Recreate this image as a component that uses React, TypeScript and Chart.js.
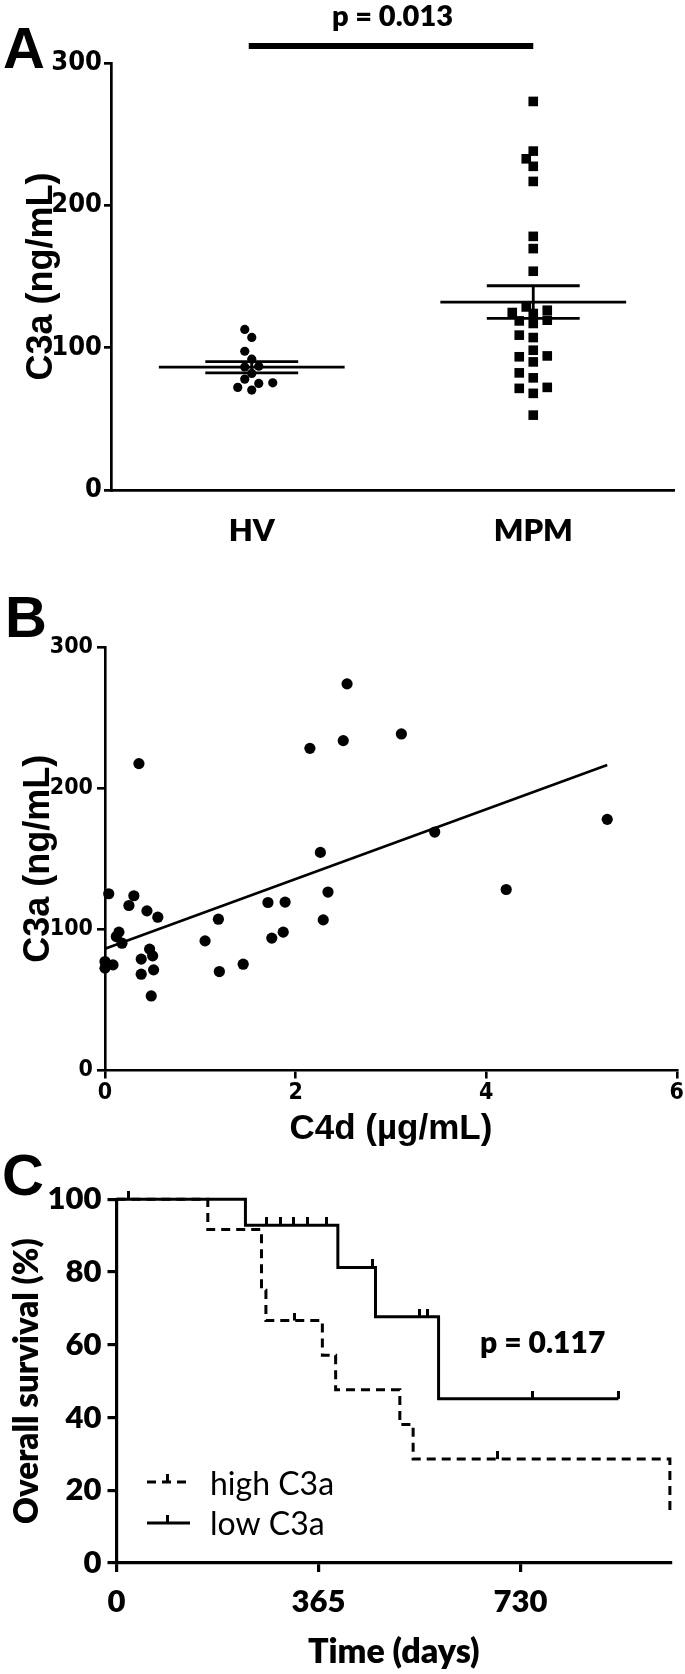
import React, { useEffect, useRef } from "react";
import { Chart, registerables } from "chart.js";
Chart.register(...registerables);

// ---------- Panel A data ----------
const GROUP_LABELS = ["HV", "MPM"];
const HV_C3A = [112.8, 107.2, 97.5, 91.9, 86.5, 87.0, 81.9, 77.9, 74.9, 75.3, 72.1, 70.2];
const MPM_C3A = [
  273.0, 238.1, 232.7, 227.4, 216.8, 178.2, 169.6, 153.7, 128.6, 126.3, 124.0, 124.7, 118.8, 117.0,
  119.3, 107.1, 108.8, 98.2, 93.6, 94.2, 90.0, 82.3, 78.8, 71.4, 72.1, 67.9, 52.6,
];
const A_Y_TICKS = [0, 100, 200, 300];
const A_P_TEXT = "p = 0.013";

// ---------- Panel B data ----------
const B_C4D = [
  0.356, 2.54, 2.15, 2.5, 3.11, 2.26, 0.039, 0.303, 0.251, 0.44, 0.554, 0.146, 0.119, 0.178, 0, 0,
  0.084, 0.468, 0.5, 0.38, 0.51, 0.38, 0.485, 1.19, 1.05, 1.2, 1.45, 1.71, 1.89, 1.75, 1.87, 2.34,
  2.29, 3.46, 4.21, 5.27,
];
const B_C3A = [
  217.4, 273.9, 228.2, 233.7, 238.4, 154.5, 125.2, 123.8, 116.9, 113.1, 108.6, 98.0, 94.9, 90.2,
  77.2, 72.5, 74.8, 86.0, 81.2, 78.9, 71.3, 68.2, 52.8, 107.2, 91.8, 70.1, 75.3, 119.0, 119.3, 93.8,
  98.0, 126.4, 106.7, 168.9, 128.2, 177.9,
];
const B_FIT_INTERCEPT = 86.2;
const B_FIT_SLOPE = 24.7;
const B_X_TICKS = [0, 2, 4, 6];
const B_Y_TICKS = [0, 100, 200, 300];

// ---------- Panel C data ----------
const LEGEND_LABELS = ["high C3a", "low C3a"];
const HIGH_EVENT_DAYS = [165, 262, 270, 372, 396, 512, 536, 1000];
const HIGH_EVENT_SURV = [91.67, 75.0, 66.67, 57.14, 47.62, 38.1, 28.57, 14.29];
const HIGH_CENSOR_DAYS = [322, 688];
const LOW_EVENT_DAYS = [233, 400, 468, 582];
const LOW_EVENT_SURV = [92.86, 81.25, 67.71, 45.14];
const LOW_CENSOR_DAYS = [21, 271, 296, 319, 345, 380, 463, 548, 562, 751, 907];
const LOW_LAST_DAY = 907;
const C_X_TICKS = [0, 365, 730];
const C_X_MAX = 1002;
const C_Y_TICKS = [0, 20, 40, 60, 80, 100];
const C_P_TEXT = "p = 0.117";

// ---------- fonts ----------
const NARROW = '"Liberation Sans Narrow", "DejaVu Sans Condensed", "Liberation Sans", Arial, sans-serif';
const ARIAL = '"Liberation Sans", Arial, sans-serif';
const LATO = 'Lato, "Open Sans", sans-serif';
const BLACK = "#000";

const mean = (a: number[]) => a.reduce((s, v) => s + v, 0) / a.length;
const sem = (a: number[]) => {
  const m = mean(a);
  const sd = Math.sqrt(a.reduce((s, v) => s + (v - m) * (v - m), 0) / (a.length - 1));
  return sd / Math.sqrt(a.length);
};

// simple beeswarm: spread points horizontally so markers don't overlap
function swarm(values: number[], center: number, pxPerY: number, pxPerX: number, size: number, step: number) {
  const order = values.map((_, i) => i).sort((a, b) => values[a] - values[b]);
  const placed: { x: number; y: number }[] = [];
  const out: { x: number; y: number }[] = new Array(values.length);
  for (const i of order) {
    const py = values[i] * pxPerY;
    let chosen = 0;
    outer: for (let n = 0; n < 60; n++) {
      const cands = n === 0 ? [0] : [-n, n];
      for (const c of cands) {
        const px = c * step;
        if (placed.every((p) => Math.hypot(p.x - px, p.y - py) >= size)) {
          chosen = px;
          break outer;
        }
      }
    }
    placed.push({ x: chosen, y: py });
    out[i] = { x: center + chosen / pxPerX, y: values[i] };
  }
  return out;
}

function errorBarData(values: number[], c: number, meanHalf: number, semHalf: number) {
  const m = mean(values);
  const s = sem(values);
  return [
    { x: c - meanHalf, y: m },
    { x: c + meanHalf, y: m },
    { x: c, y: null },
    { x: c - semHalf, y: m + s },
    { x: c + semHalf, y: m + s },
    { x: c, y: null },
    { x: c - semHalf, y: m - s },
    { x: c + semHalf, y: m - s },
    { x: c, y: null },
    { x: c, y: m - s },
    { x: c, y: m + s },
  ];
}

function survAt(days: number[], survs: number[], d: number) {
  let s = 100;
  days.forEach((t, i) => {
    if (t <= d) s = survs[i];
  });
  return s;
}

function kmData(days: number[], survs: number[], lastDay?: number) {
  const pts = [{ x: 0, y: 100 }, ...days.map((d, i) => ({ x: d, y: survs[i] }))];
  if (lastDay !== undefined && lastDay > days[days.length - 1]) {
    pts.push({ x: lastDay, y: survs[survs.length - 1] });
  }
  return pts;
}

function fixedTicks(values: number[]) {
  return (scale: any) => {
    scale.ticks = values.map((v) => ({ value: v }));
  };
}

const baseOptions = {
  responsive: false,
  animation: false as const,
  devicePixelRatio: 1,
  events: [] as any[],
};

const yGrid = (len: number, w: number) => ({
  display: true,
  drawOnChartArea: false,
  drawTicks: true,
  tickLength: len,
  tickWidth: w,
  tickColor: BLACK,
  color: BLACK,
  lineWidth: w,
});

export default function App() {
  const refA = useRef<HTMLCanvasElement>(null);
  const refB = useRef<HTMLCanvasElement>(null);
  const refC = useRef<HTMLCanvasElement>(null);

  useEffect(() => {
    const charts: Chart[] = [];

    // ================= Panel A =================
    {
      const H = 560, L = 111, R = 674, T = 63, BOT = 490;
      const pxPerY = (BOT - T) / 300;
      const pxPerX = (R - L) / 4;
      const hvPts = swarm(HV_C3A, 1, pxPerY, pxPerX, 9, 7);
      const mpmPts = swarm(MPM_C3A, 3, pxPerY, pxPerX, 9.5, 7);
      const annA = {
        id: "annA",
        afterDraw(chart: any) {
          const ctx = chart.ctx;
          const xs = chart.scales.x;
          const x1 = xs.getPixelForValue(1);
          const x2 = xs.getPixelForValue(3);
          ctx.save();
          ctx.fillStyle = BLACK;
          ctx.strokeStyle = BLACK;
          ctx.textBaseline = "alphabetic";
          ctx.font = `bold 58px ${ARIAL}`;
          ctx.textAlign = "left";
          ctx.fillText("A", 3, 68);
          ctx.lineWidth = 6;
          ctx.beginPath();
          ctx.moveTo(x1 - 3, chart.chartArea.top - 17);
          ctx.lineTo(x2, chart.chartArea.top - 17);
          ctx.stroke();
          ctx.font = `800 29px ${LATO}`;
          ctx.textAlign = "center";
          ctx.fillText(A_P_TEXT, (x1 + x2) / 2, 26);
          ctx.restore();
        },
      };
      charts.push(
        new Chart(refA.current!, {
          type: "scatter",
          data: {
            datasets: [
              {
                type: "line",
                data: errorBarData(HV_C3A, 1, 0.66, 0.33) as any,
                borderColor: BLACK,
                borderWidth: 2.8,
                pointRadius: 0,
                spanGaps: false,
                clip: false as any,
              },
              {
                type: "line",
                data: errorBarData(MPM_C3A, 3, 0.66, 0.33) as any,
                borderColor: BLACK,
                borderWidth: 2.8,
                pointRadius: 0,
                spanGaps: false,
                clip: false as any,
              },
              {
                label: GROUP_LABELS[0],
                data: hvPts,
                pointStyle: "circle",
                pointRadius: 4.6,
                pointBackgroundColor: BLACK,
                pointBorderWidth: 0,
                clip: false as any,
              },
              {
                label: GROUP_LABELS[1],
                data: mpmPts,
                pointStyle: "rect",
                pointRadius: 6.8,
                pointBackgroundColor: BLACK,
                pointBorderWidth: 0,
                clip: false as any,
              },
            ],
          },
          options: {
            ...baseOptions,
            layout: { padding: { top: T, right: 685 - R, left: 0, bottom: 0 } },
            plugins: { legend: { display: false }, tooltip: { enabled: false } },
            scales: {
              x: {
                type: "linear",
                min: 0,
                max: 4,
                afterBuildTicks: fixedTicks([1, 3]),
                afterFit: (s: any) => {
                  s.height = H - BOT;
                },
                ticks: {
                  callback: (v: any) => GROUP_LABELS[Math.round((Number(v) - 1) / 2)],
                  font: { family: LATO, size: 31, weight: "800" },
                  color: BLACK,
                  padding: 22,
                  maxRotation: 0,
                  autoSkip: false,
                },
                grid: { display: false, drawTicks: false },
                border: { display: true, color: BLACK, width: 2.7 },
              },
              y: {
                type: "linear",
                min: A_Y_TICKS[0],
                max: A_Y_TICKS[A_Y_TICKS.length - 1],
                afterBuildTicks: fixedTicks(A_Y_TICKS),
                afterFit: (s: any) => {
                  s.width = L;
                },
                ticks: {
                  font: { family: NARROW, size: 27, weight: "bold" },
                  color: BLACK,
                  padding: 2,
                },
                grid: yGrid(7, 2.7),
                border: { display: true, color: BLACK, width: 2.7 },
                title: {
                  display: true,
                  text: "C3a (ng/mL)",
                  font: { family: ARIAL, size: 36, weight: "bold" },
                  color: BLACK,
                  padding: { top: 20, bottom: 0 },
                },
              },
            },
          } as any,
          plugins: [annA],
        })
      );
    }

    // ================= Panel B =================
    {
      const H = 600, L = 105, R = 679, T = 87, BOT = 510.5;
      const xMin = Math.min(...B_C4D);
      const xMax = Math.max(...B_C4D);
      const annB = {
        id: "annB",
        afterDraw(chart: any) {
          const ctx = chart.ctx;
          ctx.save();
          ctx.fillStyle = BLACK;
          ctx.textBaseline = "alphabetic";
          ctx.textAlign = "left";
          ctx.font = `bold 58px ${ARIAL}`;
          ctx.fillText("B", 5, 77);
          ctx.restore();
        },
      };
      charts.push(
        new Chart(refB.current!, {
          type: "scatter",
          data: {
            datasets: [
              {
                type: "line",
                data: [
                  { x: xMin, y: B_FIT_INTERCEPT + B_FIT_SLOPE * xMin },
                  { x: xMax, y: B_FIT_INTERCEPT + B_FIT_SLOPE * xMax },
                ],
                borderColor: BLACK,
                borderWidth: 2.6,
                pointRadius: 0,
                clip: false as any,
              },
              {
                data: B_C4D.map((x, i) => ({ x, y: B_C3A[i] })),
                pointStyle: "circle",
                pointRadius: 5.6,
                pointBackgroundColor: BLACK,
                pointBorderWidth: 0,
                clip: false as any,
              },
            ],
          },
          options: {
            ...baseOptions,
            layout: { padding: { top: T, right: 685 - R, left: 0, bottom: 0 } },
            plugins: { legend: { display: false }, tooltip: { enabled: false } },
            scales: {
              x: {
                type: "linear",
                min: B_X_TICKS[0],
                max: B_X_TICKS[B_X_TICKS.length - 1],
                afterBuildTicks: fixedTicks(B_X_TICKS),
                afterFit: (s: any) => {
                  s.height = H - BOT;
                },
                ticks: {
                  font: { family: NARROW, size: 23, weight: "bold" },
                  color: BLACK,
                  padding: 1,
                  maxRotation: 0,
                },
                grid: yGrid(8, 2.6),
                border: { display: true, color: BLACK, width: 2.6 },
                title: {
                  display: true,
                  text: "C4d (µg/mL)",
                  font: { family: ARIAL, size: 35, weight: "bold" },
                  color: BLACK,
                  padding: { top: 0, bottom: 10 },
                },
              },
              y: {
                type: "linear",
                min: B_Y_TICKS[0],
                max: B_Y_TICKS[B_Y_TICKS.length - 1],
                afterBuildTicks: fixedTicks(B_Y_TICKS),
                afterFit: (s: any) => {
                  s.width = L;
                },
                ticks: {
                  font: { family: NARROW, size: 23, weight: "bold" },
                  color: BLACK,
                  padding: 4,
                },
                grid: yGrid(8, 2.6),
                border: { display: true, color: BLACK, width: 2.6 },
                title: {
                  display: true,
                  text: "C3a (ng/mL)",
                  font: { family: ARIAL, size: 36, weight: "bold" },
                  color: BLACK,
                  padding: { top: 17, bottom: 0 },
                },
              },
            },
          } as any,
          plugins: [annB],
        })
      );
    }

    // ================= Panel C =================
    {
      const H = 534, L = 116.5, R = 671, T = 59.3, BOT = 423;
      const tick = document.createElement("canvas");
      tick.width = 3;
      tick.height = 16;
      const tctx = tick.getContext("2d")!;
      tctx.fillStyle = BLACK;
      tctx.fillRect(0, 0, 3, 8);

      const annC = {
        id: "annC",
        afterDraw(chart: any) {
          const ctx = chart.ctx;
          ctx.save();
          ctx.fillStyle = BLACK;
          ctx.strokeStyle = BLACK;
          ctx.textBaseline = "alphabetic";
          ctx.textAlign = "left";
          ctx.font = `bold 58px ${ARIAL}`;
          ctx.fillText("C", 2, 55);
          ctx.font = `800 30px ${LATO}`;
          ctx.fillText(C_P_TEXT, 480, 213);
          // legend
          ctx.lineWidth = 3;
          ctx.setLineDash([9, 6]);
          ctx.beginPath();
          ctx.moveTo(147, 342);
          ctx.lineTo(190, 342);
          ctx.stroke();
          ctx.setLineDash([]);
          ctx.fillRect(166, 334, 3, 8);
          ctx.beginPath();
          ctx.moveTo(147, 383);
          ctx.lineTo(190, 383);
          ctx.stroke();
          ctx.fillRect(166, 375, 3, 8);
          ctx.font = `32px ${LATO}`;
          ctx.fillText(LEGEND_LABELS[0], 210, 355);
          ctx.fillText(LEGEND_LABELS[1], 210, 395);
          ctx.restore();
        },
      };

      charts.push(
        new Chart(refC.current!, {
          type: "line",
          data: {
            datasets: [
              {
                label: LEGEND_LABELS[0],
                data: kmData(HIGH_EVENT_DAYS, HIGH_EVENT_SURV),
                stepped: "before",
                borderColor: BLACK,
                borderWidth: 3,
                borderDash: [9, 6],
                pointRadius: 0,
                fill: false,
                clip: false as any,
              },
              {
                label: LEGEND_LABELS[1],
                data: kmData(LOW_EVENT_DAYS, LOW_EVENT_SURV, LOW_LAST_DAY),
                stepped: "before",
                borderColor: BLACK,
                borderWidth: 3,
                pointRadius: 0,
                fill: false,
                clip: false as any,
              },
              {
                type: "scatter",
                data: HIGH_CENSOR_DAYS.map((d) => ({ x: d, y: survAt(HIGH_EVENT_DAYS, HIGH_EVENT_SURV, d) })),
                pointStyle: tick as any,
                pointRadius: 3,
                clip: false as any,
              },
              {
                type: "scatter",
                data: LOW_CENSOR_DAYS.map((d) => ({ x: d, y: survAt(LOW_EVENT_DAYS, LOW_EVENT_SURV, d) })),
                pointStyle: tick as any,
                pointRadius: 3,
                clip: false as any,
              },
            ],
          },
          options: {
            ...baseOptions,
            layout: { padding: { top: T, right: 685 - R, left: 0, bottom: 0 } },
            plugins: { legend: { display: false }, tooltip: { enabled: false } },
            scales: {
              x: {
                type: "linear",
                min: 0,
                max: C_X_MAX,
                afterBuildTicks: fixedTicks(C_X_TICKS),
                afterFit: (s: any) => {
                  s.height = H - BOT;
                },
                ticks: {
                  font: { family: LATO, size: 31, weight: "800" },
                  color: BLACK,
                  padding: 11,
                  maxRotation: 0,
                  autoSkip: false,
                },
                grid: yGrid(9, 3.2),
                border: { display: true, color: BLACK, width: 3.2 },
                title: {
                  display: true,
                  text: "Time (days)",
                  font: { family: LATO, size: 34, weight: "800" },
                  color: BLACK,
                  padding: { top: 0, bottom: 2 },
                },
              },
              y: {
                type: "linear",
                min: C_Y_TICKS[0],
                max: C_Y_TICKS[C_Y_TICKS.length - 1],
                afterBuildTicks: fixedTicks(C_Y_TICKS),
                afterFit: (s: any) => {
                  s.width = L;
                },
                ticks: {
                  font: { family: LATO, size: 31, weight: "800" },
                  color: BLACK,
                  padding: 6,
                },
                grid: yGrid(9, 3.2),
                border: { display: true, color: BLACK, width: 3.2 },
                title: {
                  display: true,
                  text: "Overall survival (%)",
                  font: { family: LATO, size: 33, weight: "800" },
                  color: BLACK,
                  padding: { top: 8, bottom: 0 },
                },
              },
            },
          } as any,
          plugins: [annC],
        })
      );
    }

    return () => charts.forEach((c) => c.destroy());
  }, []);

  return (
    <div style={{ position: "absolute", left: 0, top: 0, width: 685, height: 1674, background: "#fff" }}>
      <canvas ref={refA} width={685} height={560} style={{ position: "absolute", left: 0, top: 0, width: 685, height: 560 }} />
      <canvas ref={refB} width={685} height={600} style={{ position: "absolute", left: 0, top: 560, width: 685, height: 600 }} />
      <canvas ref={refC} width={685} height={534} style={{ position: "absolute", left: 0, top: 1140, width: 685, height: 534 }} />
    </div>
  );
}
